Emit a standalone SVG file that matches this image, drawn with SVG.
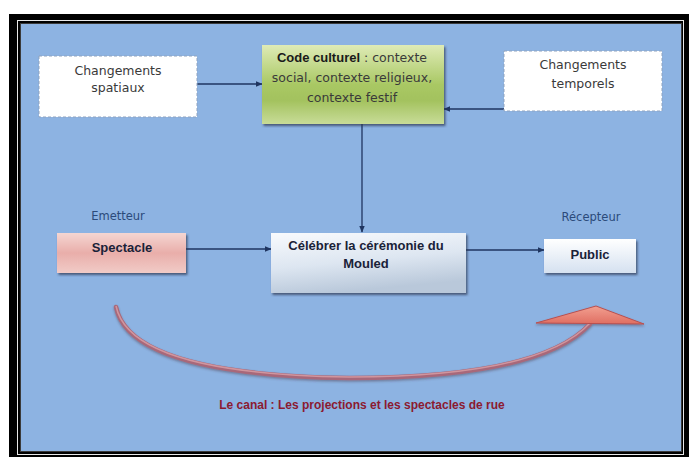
<svg xmlns="http://www.w3.org/2000/svg" width="689" height="457" viewBox="0 0 689 457">
<defs>
<style>
.t{font-family:"DejaVu Sans","Liberation Sans",sans-serif;fill:#3a3a3a;text-anchor:middle}
.b{font-family:"Liberation Sans",Arial,sans-serif;font-weight:bold;fill:#1a2238;text-anchor:middle;font-size:13px}
.lbl{font-family:"DejaVu Sans","Liberation Sans",sans-serif;fill:#2b4a7a;text-anchor:middle;font-size:11.5px}
.dash{fill:#ffffff;stroke:#8fa3bf;stroke-width:1;stroke-dasharray:3,2}
.conn{stroke:#1f3560;stroke-width:1.3;fill:none;marker-end:url(#ah)}
</style>
<marker id="ah" viewBox="0 0 10 10" refX="9" refY="5" markerWidth="7" markerHeight="7" markerUnits="userSpaceOnUse" orient="auto">
<path d="M0,1 L10,5 L0,9 z" fill="#1f3560"/>
</marker>
<filter id="sh" x="-10%" y="-10%" width="130%" height="140%">
<feDropShadow dx="1.5" dy="2" stdDeviation="1" flood-color="#2a3350" flood-opacity="0.7"/>
</filter>
<filter id="sh2" x="-10%" y="-20%" width="130%" height="160%">
<feDropShadow dx="0" dy="1.5" stdDeviation="0.8" flood-color="#4a3040" flood-opacity="0.45"/>
</filter>
<linearGradient id="gGreen" x1="0" y1="0" x2="0" y2="1">
<stop offset="0" stop-color="#dfebb6"/>
<stop offset="0.5" stop-color="#a9c864"/>
<stop offset="0.7" stop-color="#a3c25e"/>
<stop offset="1" stop-color="#c8dc98"/>
</linearGradient>
<linearGradient id="gPink" x1="0" y1="0" x2="0" y2="1">
<stop offset="0" stop-color="#f5d6d2"/>
<stop offset="0.5" stop-color="#e9aeaa"/>
<stop offset="1" stop-color="#f1cbc7"/>
</linearGradient>
<linearGradient id="gCel" x1="0" y1="0" x2="0.3" y2="1">
<stop offset="0" stop-color="#f8fafd"/>
<stop offset="0.55" stop-color="#dde6f1"/>
<stop offset="1" stop-color="#b9c8da"/>
</linearGradient>
<linearGradient id="gPub" x1="0" y1="0" x2="0" y2="1">
<stop offset="0" stop-color="#ffffff"/>
<stop offset="1" stop-color="#d5e1f0"/>
</linearGradient>
<linearGradient id="gArr" x1="0" y1="0" x2="0" y2="1">
<stop offset="0" stop-color="#f2a090"/>
<stop offset="1" stop-color="#e06e62"/>
</linearGradient>
</defs>

<!-- frame -->
<rect x="0" y="0" width="689" height="457" fill="#ffffff"/>
<rect x="9" y="14" width="680" height="443" fill="#000000"/>
<rect x="17.5" y="20.5" width="666" height="434" fill="none" stroke="#e8e8e8" stroke-width="1"/>
<rect x="20.5" y="23.5" width="661" height="428" fill="#8db3e2" stroke="#3a3a3a" stroke-width="1"/>

<!-- connectors -->
<g id="connectors">
<line class="conn" x1="197" y1="84" x2="262" y2="84"/>
<line class="conn" x1="504" y1="109" x2="444" y2="109"/>
<line class="conn" x1="362" y1="124" x2="362" y2="232"/>
<line class="conn" x1="186" y1="249" x2="271" y2="249"/>
<line class="conn" x1="466" y1="250" x2="544" y2="250"/>
<g id="canal-arrow" filter="url(#sh2)">
<path d="M116,307 Q130,375 349,378 Q540,378 590,324" fill="none" stroke="#a8687a" stroke-width="4.5" stroke-linecap="round"/>
<path d="M116,307 Q130,375 349,378 Q540,378 590,324" fill="none" stroke="#d0959e" stroke-width="1.5" transform="translate(0,-1)"/>
<polygon points="596,306 536,323 644,324" fill="url(#gArr)" stroke="#b85050" stroke-width="1"/>
</g>
</g>

<g id="spatiaux">
<rect class="dash" x="39" y="56" width="158" height="61"/>
<text class="t" x="118" y="75" font-size="12.5">Changements</text>
<text class="t" x="118" y="92" font-size="12.5">spatiaux</text>
</g>

<g id="code-culturel">
<rect x="262" y="45" width="182" height="79" fill="url(#gGreen)" filter="url(#sh)"/>
<text class="t" x="352" y="62" font-size="12.5" fill="#333">
<tspan font-family="Liberation Sans, Arial, sans-serif" font-weight="bold" font-size="13" fill="#1a1a1a">Code culturel</tspan><tspan> : contexte</tspan></text>
<text class="t" x="352" y="82" font-size="12.5">social, contexte religieux,</text>
<text class="t" x="352" y="102" font-size="12.5">contexte festif</text>
</g>

<g id="temporels">
<rect class="dash" x="504" y="51" width="158" height="60"/>
<text class="t" x="583" y="69" font-size="12.5">Changements</text>
<text class="t" x="583" y="88" font-size="12.5">temporels</text>
</g>

<g id="emetteur">
<text class="lbl" x="118" y="220">Emetteur</text>
</g>

<g id="spectacle">
<rect x="57" y="233" width="129" height="40" fill="url(#gPink)" filter="url(#sh)"/>
<text class="b" x="122" y="252">Spectacle</text>
</g>

<g id="celebrer">
<rect x="271" y="233" width="195" height="60" fill="url(#gCel)" filter="url(#sh)"/>
<text class="b" x="366" y="250">Célébrer la cérémonie du</text>
<text class="b" x="366" y="268">Mouled</text>
</g>

<g id="recepteur">
<text class="lbl" x="591" y="221">Récepteur</text>
</g>

<g id="public">
<rect x="544" y="239" width="92" height="34" fill="url(#gPub)" filter="url(#sh)"/>
<text class="b" x="590" y="259">Public</text>
</g>

<g id="canal">
<text x="362" y="409" font-family="Liberation Sans, Arial, sans-serif" font-weight="bold" font-size="12" fill="#8b1a30" text-anchor="middle">Le canal : Les projections et les spectacles de rue</text>
</g>
</svg>
